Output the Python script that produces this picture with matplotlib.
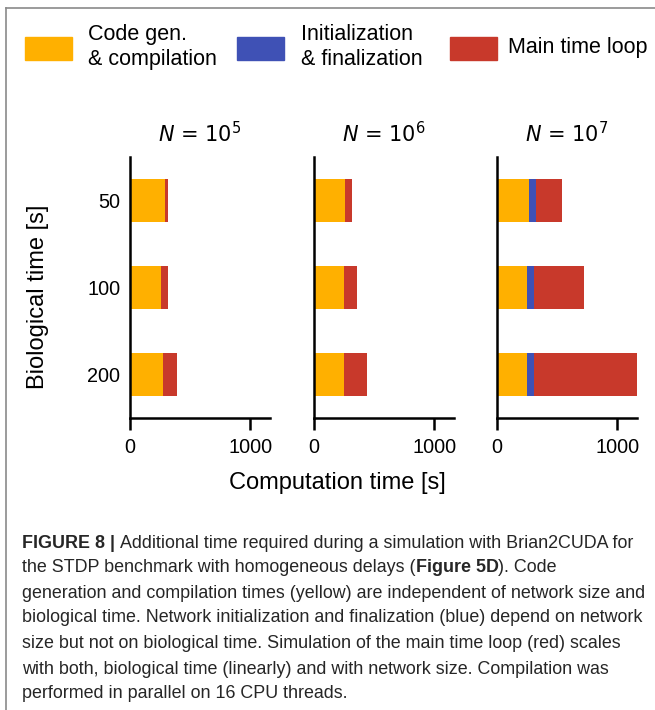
import numpy as np
import matplotlib
matplotlib.use("Agg")
import matplotlib.pyplot as plt
from matplotlib.patches import Rectangle
from matplotlib.lines import Line2D

plt.rcParams['font.family'] = ['Liberation Sans', 'DejaVu Sans']

# dane [s]
bio_time = ['50', '100', '200']
sizes = ['$N$ = $10^5$', '$N$ = $10^6$', '$N$ = $10^7$']
codegen = [[288, 257, 274], [255, 248, 248], [268, 251, 254]]
init = [[3, 3, 3], [6, 6, 6], [58, 55, 56]]
mainloop = [[25, 56, 112], [52, 101, 187], [218, 419, 854]]

labels = ['Code gen.\n& compilation', 'Initialization\n& finalization', 'Main time loop']
colors = ['#FFB000', '#3F51B5', '#C8392B']

W, H = 655, 710
fig = plt.figure(figsize=(W / 100, H / 100), dpi=100)

def fx(px):
    return px / W

def fy(py):
    return 1 - py / H

lefts = [130, 314, 497]
y_pos = np.arange(len(bio_time))
for k, left in enumerate(lefts):
    ax = fig.add_axes([fx(left), fy(418), 140 / W, 261 / H])
    c = np.array(codegen[k])
    i = np.array(init[k])
    m = np.array(mainloop[k])
    ax.barh(y_pos, c, height=0.5, color=colors[0], linewidth=0)
    ax.barh(y_pos, i, left=c, height=0.5, color=colors[1], linewidth=0)
    ax.barh(y_pos, m, left=c + i, height=0.5, color=colors[2], linewidth=0)
    ax.set_xlim(0, 1166)
    ax.set_ylim(2.5, -0.5)
    ax.set_xticks([0, 1000])
    ax.set_yticks(y_pos)
    if k == 0:
        ax.set_yticklabels(bio_time)
    else:
        ax.set_yticklabels([])
    for s in ['top', 'right']:
        ax.spines[s].set_visible(False)
    for s in ['left', 'bottom']:
        ax.spines[s].set_linewidth(1.8)
    ax.tick_params(axis='x', length=8.5, width=1.8, pad=6, labelsize=14.3)
    ax.tick_params(axis='y', length=0, pad=7, labelsize=14.3)
    ax.set_title(sizes[k], fontsize=15, family='DejaVu Sans',
                 math_fontfamily='dejavusans', pad=11)

fig.text(fx(337), fy(483), 'Computation time [s]', fontsize=17,
         ha='center', va='center')
fig.text(fx(38), fy(297), 'Biological time [s]', fontsize=17,
         ha='center', va='center', rotation=90)

# legenda
patch_x = [25, 237, 450]
text_x = [88, 301, 508]
for px, tx, lab, col in zip(patch_x, text_x, labels, colors):
    fig.patches.append(Rectangle((fx(px), fy(60)), 47 / W, 23 / H,
                                 transform=fig.transFigure, color=col))
    fig.text(fx(tx), fy(47), lab, fontsize=15.5, ha='left', va='center',
             linespacing=1.2)

# ramka
fig.add_artist(Line2D([fx(6), fx(W)], [fy(8), fy(8)], color='#8a8a8a', lw=1.2))
fig.add_artist(Line2D([fx(6), fx(6)], [fy(8), fy(H)], color='#8a8a8a', lw=1.2))

# podpis: lista fragmentow (tekst, pogrubienie) dla kazdej linii
caption = [
    [('FIGURE 8 |', True), (' Additional time required during a simulation with Brian2CUDA for', False)],
    [('the STDP benchmark with homogeneous delays (', False), ('Figure 5D', True), ('). Code', False)],
    [('generation and compilation times (yellow) are independent of network size and', False)],
    [('biological time. Network initialization and finalization (blue) depend on network', False)],
    [('size but not on biological time. Simulation of the main time loop (red) scales', False)],
    [('with both, biological time (linearly) and with network size. Compilation was', False)],
    [('performed in parallel on 16 CPU threads.', False)],
]
line_y = [542, 566, 591, 616, 642, 667, 692]
cap_size = 12.9
cap_col = '#262626'

renderer = fig.canvas.get_renderer()

def text_w(s, bold):
    t = fig.text(0, 0, s, fontsize=cap_size, fontweight='bold' if bold else 'normal')
    w = t.get_window_extent(renderer).width
    t.remove()
    return w

space_w = text_w('a a', False) - text_w('aa', False)

for segs, ly in zip(caption, line_y):
    x = 22.0
    for s, bold in segs:
        lead = len(s) - len(s.lstrip(' '))
        x += lead * space_w
        s = s.lstrip(' ')
        t = fig.text(fx(x), fy(ly), s, fontsize=cap_size, color=cap_col,
                     fontweight='bold' if bold else 'normal',
                     ha='left', va='center_baseline')
        x += t.get_window_extent(renderer).width

fig.savefig('out.png', dpi=100)
